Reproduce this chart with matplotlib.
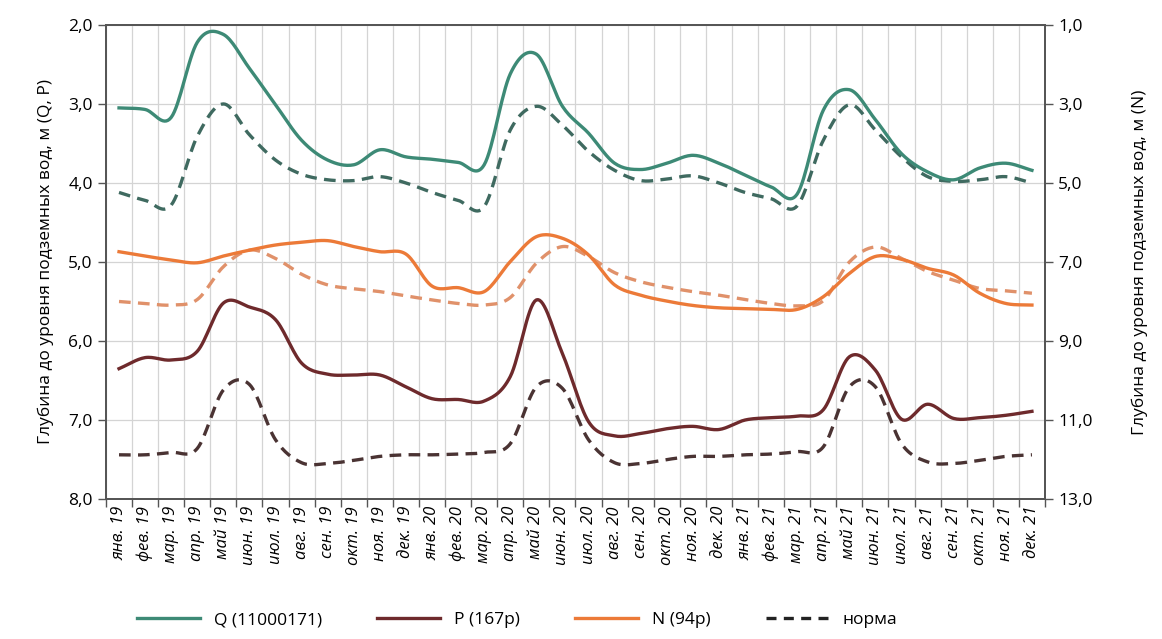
import matplotlib
matplotlib.use('Agg')
import matplotlib.pyplot as plt
from matplotlib.lines import Line2D
import numpy as np

plt.rcParams['font.family'] = ['Open Sans', 'DejaVu Sans']

months = ['янв.', 'фев.', 'мар.', 'апр.', 'май', 'июн.',
          'июл.', 'авг.', 'сен.', 'окт.', 'ноя.', 'дек.']
years = ['19', '20', '21']
labels = [m + ' ' + y for y in years for m in months]

# left axis (Q, P), m
q_obs = [3.05, 3.07, 3.17, 2.22, 2.12, 2.55, 3.01, 3.46, 3.71, 3.77, 3.58, 3.67,
         3.70, 3.74, 3.77, 2.62, 2.37, 3.03, 3.37, 3.75, 3.83, 3.75, 3.65, 3.75,
         3.90, 4.05, 4.14, 3.08, 2.82, 3.20, 3.63, 3.86, 3.96, 3.81, 3.75, 3.84]
q_norm = [4.12, 4.22, 4.28, 3.41, 3.00, 3.39, 3.71, 3.89, 3.96, 3.97, 3.92, 4.00,
          4.12, 4.22, 4.30, 3.33, 3.03, 3.27, 3.60, 3.84, 3.97, 3.95, 3.91, 4.00,
          4.12, 4.20, 4.29, 3.46, 3.01, 3.33, 3.67, 3.92, 3.98, 3.96, 3.92, 4.00]
p_obs = [6.35, 6.21, 6.24, 6.13, 5.52, 5.57, 5.73, 6.28, 6.42, 6.43, 6.43, 6.58,
         6.73, 6.74, 6.76, 6.45, 5.48, 6.16, 7.02, 7.20, 7.17, 7.11, 7.08, 7.12,
         7.00, 6.97, 6.95, 6.87, 6.20, 6.37, 6.99, 6.80, 6.98, 6.97, 6.94, 6.89]
p_norm = [7.44, 7.44, 7.41, 7.36, 6.62, 6.55, 7.25, 7.54, 7.55, 7.51, 7.46, 7.44,
          7.44, 7.43, 7.41, 7.30, 6.58, 6.60, 7.25, 7.54, 7.55, 7.50, 7.46, 7.46,
          7.44, 7.43, 7.40, 7.34, 6.58, 6.58, 7.30, 7.53, 7.55, 7.51, 7.46, 7.44]
# right axis (N), m
n_obs = [6.74, 6.85, 6.95, 7.02, 6.85, 6.70, 6.57, 6.50, 6.46, 6.61, 6.74, 6.80,
         7.61, 7.65, 7.75, 6.99, 6.36, 6.40, 6.82, 7.58, 7.84, 7.99, 8.10, 8.16,
         8.18, 8.20, 8.20, 7.88, 7.29, 6.86, 6.93, 7.16, 7.33, 7.79, 8.05, 8.09]
n_norm = [8.00, 8.05, 8.09, 7.95, 7.12, 6.70, 6.91, 7.31, 7.58, 7.68, 7.75, 7.86,
          7.96, 8.05, 8.09, 7.90, 7.03, 6.61, 6.86, 7.27, 7.50, 7.64, 7.75, 7.84,
          7.95, 8.05, 8.11, 7.98, 7.00, 6.62, 6.91, 7.24, 7.46, 7.67, 7.73, 7.79]

c_q = '#3d8a76'
c_p = '#6e2a2c'
c_n = '#ec7a38'
c_q_norm = '#3f6a60'
c_p_norm = '#4a3333'
c_n_norm = '#e0916a'


def smooth(y, n=16):
    # Catmull-Rom curve through the monthly points (like excel "smoothed line")
    y = np.asarray(y, float)
    x = np.arange(len(y), dtype=float)
    px = np.concatenate([[2*x[0]-x[1]], x, [2*x[-1]-x[-2]]])
    py = np.concatenate([[2*y[0]-y[1]], y, [2*y[-1]-y[-2]]])
    xs, ys = [], []
    t = np.linspace(0, 1, n, endpoint=False)
    for i in range(1, len(px)-2):
        for arr, out in ((px, xs), (py, ys)):
            p0, p1, p2, p3 = arr[i-1], arr[i], arr[i+1], arr[i+2]
            out.extend(0.5*((2*p1) + (-p0+p2)*t + (2*p0-5*p1+4*p2-p3)*t**2
                            + (-p0+3*p1-3*p2+p3)*t**3))
    xs.append(x[-1])
    ys.append(y[-1])
    return np.array(xs), np.array(ys)


fig = plt.figure(figsize=(11.62, 6.39), dpi=100)
ax = fig.add_axes([0.0912, 0.219, 0.8081, 0.742])
ax2 = ax.twinx()

lw = 2.4
dash = (3.5, 2.2)
ax.plot(*smooth(q_norm), '--', color=c_q_norm, lw=lw, dashes=dash)
ax.plot(*smooth(p_norm), '--', color=c_p_norm, lw=lw, dashes=dash)
ax2.plot(*smooth(n_norm), '--', color=c_n_norm, lw=lw, dashes=dash)
ax.plot(*smooth(q_obs), '-', color=c_q, lw=lw)
ax.plot(*smooth(p_obs), '-', color=c_p, lw=lw)
ax2.plot(*smooth(n_obs), '-', color=c_n, lw=lw)

n = len(labels)
ax.set_xlim(-0.5, n - 0.5)
ax.set_ylim(8.0, 2.0)
ax2.set_ylim(13.0, 1.0)

left_ticks = np.arange(2, 9, 1.0)
right_ticks = np.arange(1, 14, 2.0)
ax.set_yticks(left_ticks)
ax.set_yticklabels([('%.1f' % v).replace('.', ',') for v in left_ticks])
ax2.set_yticks(right_ticks)
ax2.set_yticklabels([('%.1f' % v).replace('.', ',') for v in right_ticks])

ax.set_xticks(np.arange(n))
ax.set_xticklabels(labels, rotation=90, fontsize=12, style='italic')
ax.set_xticks(np.arange(-0.5, n, 1.0), minor=True)
ax.tick_params(axis='x', which='major', length=0, pad=5)
ax.tick_params(axis='x', which='minor', length=6, width=1, color='#555555')
ax.tick_params(axis='y', length=6, width=1, color='#555555', labelsize=12.5)
ax2.tick_params(axis='y', length=6, width=1, color='#555555', labelsize=12.5)

ax.grid(True, which='minor', axis='x', color='#d4d4d4', lw=0.9)
ax.grid(True, which='major', axis='y', color='#d4d4d4', lw=0.9)
ax.set_axisbelow(True)

for a in (ax, ax2):
    for s in a.spines.values():
        s.set_color('#555555')
        s.set_linewidth(1.3)

ax.set_ylabel('Глубина до уровня подземных вод, м (Q, Р)', fontsize=12.5, labelpad=10)
ax2.set_ylabel('Глубина до уровня подземных вод, м (N)', fontsize=12.5, labelpad=28)

handles = [Line2D([], [], color=c_q, lw=lw),
           Line2D([], [], color=c_p, lw=lw),
           Line2D([], [], color=c_n, lw=lw),
           Line2D([], [], color='#222222', lw=lw, ls='--', dashes=(3, 2.2))]
fig.legend(handles, ['Q (11000171)', 'Р (167р)', 'N (94р)', 'норма'],
           loc='lower center', bbox_to_anchor=(0.445, -0.008), ncol=4,
           frameon=False, fontsize=12.5, handlelength=3.6, columnspacing=3.2)

fig.savefig('out.png', dpi=100)
